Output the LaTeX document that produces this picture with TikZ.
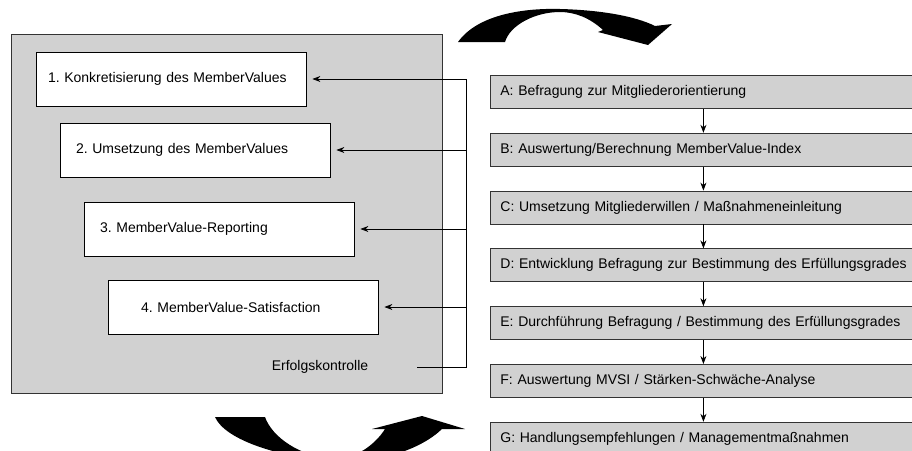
\documentclass[tikz,border=0pt]{standalone}
\usepackage{fontspec}
\setmainfont{Liberation Sans}
\usetikzlibrary{shapes,arrows,arrows.meta,positioning,calc}
\frenchspacing

\begin{document}
\begin{tikzpicture}[
    x=1pt, y=-1pt,
    every node/.style={font=\fontsize{14}{16}\selectfont},
    panel/.style={rectangle, draw=black!80, line width=0.8pt, fill=black!18, minimum width=431, minimum height=359, anchor=north west},
    stage/.style={rectangle, draw, line width=0.8pt, fill=white, minimum width=270, minimum height=54, text width=238, inner xsep=16, align=left},
    phase/.style={rectangle, draw=black!80, line width=0.8pt, fill=black!18, minimum width=426, minimum height=33, text width=406, inner xsep=10, align=left},
    arrow/.style={-{Stealth[length=8pt, width=6pt]}, line width=0.8pt},
    node distance=24pt
]
    \useasboundingbox (0,0) rectangle (912,450);

    % Linke Seite: MemberValue-Prozess
    \node[panel] (panel) at (11,34) {};
    \node[stage, inner xsep=12, text width=246] (k1) at (171,79) {1. Konkretisierung des MemberValues};
    \node[stage] (k2) at (195,150) {2. Umsetzung des MemberValues};
    \node[stage] (k3) at (219,229) {3. MemberValue-Reporting};
    \node[stage, inner xsep=33, text width=204] (k4) at (243,307) {4. MemberValue-Satisfaction};
    \node (erfolg) at (320,367) {Erfolgskontrolle};

    % Rechte Seite: Phasen A bis G
    \node[phase, anchor=north west] (pa) at (490,75) {A: Befragung zur Mitgliederorientierung};
    \node[phase, below=of pa] (pb) {B: Auswertung/Berechnung MemberValue-Index};
    \node[phase, below=of pb] (pc) {C: Umsetzung Mitgliederwillen / Maßnahmeneinleitung};
    \node[phase, below=of pc] (pd) {\mbox{D: Entwicklung Befragung zur Bestimmung des Erfüllungsgrades}};
    \node[phase, below=of pd] (pe) {E: Durchführung Befragung / Bestimmung des Erfüllungsgrades};
    \node[phase, below=of pe] (pf) {F: Auswertung MVSI / Stärken-Schwäche-Analyse};
    \node[phase, below=of pf] (pg) {G: Handlungsempfehlungen / Managementmaßnahmen};

    \foreach \a/\b in {pa/pb, pb/pc, pc/pd, pd/pe, pe/pf, pf/pg}
        \draw[arrow] (\a) -- (\b);

    % Rueckkopplung der Erfolgskontrolle
    \coordinate (tap) at (417,367);
    \coordinate (rail) at (466,367);
    \draw[line width=0.8pt] (tap) -- (rail) -- (rail |- k1);
    \foreach \k in {k1,k2,k3,k4}
        \draw[arrow, shorten >=6pt] (rail |- \k) -- (\k);

    % Kreislaufpfeile
    \begin{scope}
        \clip (0,0) rectangle (912,450);
        \fill (458,42) .. controls (478,14) and (525,8) .. (560,9)
            .. controls (600,10) and (635,16) .. (655,26) -- (672,24) -- (648,45)
            -- (598,32) -- (603,30) .. controls (590,18) and (575,12) .. (560,12)
            .. controls (535,12) and (510,25) .. (505,42) -- cycle;
        \fill (215,417) -- (265,417) .. controls (272,437) and (300,457) .. (335,459)
            .. controls (355,459) and (375,445) .. (385,429) -- (372,429) -- (422,416)
            -- (465,429) -- (442,429) .. controls (420,450) and (380,462) .. (340,462)
            .. controls (280,458) and (225,440) .. (215,417) -- cycle;
    \end{scope}
\end{tikzpicture}
\end{document}
